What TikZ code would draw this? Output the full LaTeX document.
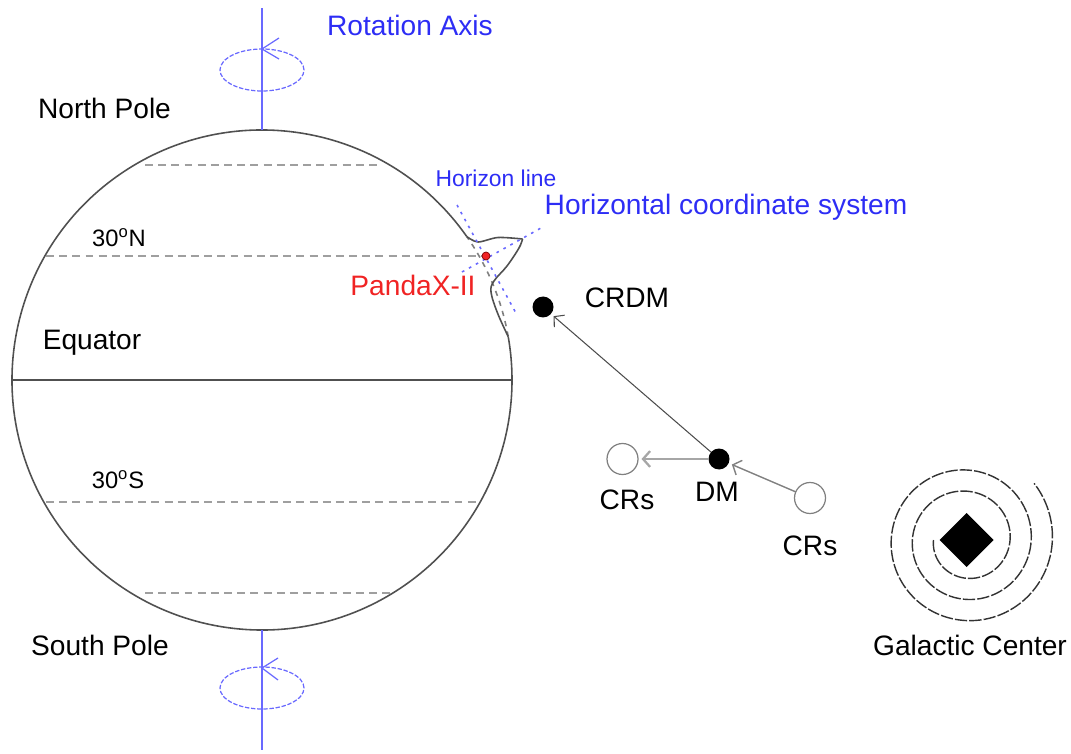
\documentclass[tikz,border=0pt]{standalone}
\usepackage{fontspec}
\setmainfont{Liberation Sans}
\usetikzlibrary{arrows.meta}

\definecolor{axisblue}{RGB}{105,105,255}
\definecolor{labelblue}{RGB}{45,45,245}
\definecolor{pandared}{RGB}{240,35,35}
\definecolor{earthgray}{RGB}{80,80,80}

\begin{document}
\begin{tikzpicture}
\tikzset{ >={Straight Barb[length=4pt,width=9pt]}, inner sep=0pt, outer sep=0pt,
  lbl/.style={font=\fontsize{16}{19}\selectfont},
  smalllbl/.style={font=\fontsize{13.5}{16}\selectfont},
  earth/.style={earthgray, line width=0.9pt},
  lat/.style={gray!75, line width=0.8pt, dash pattern=on 4.5pt off 3pt},
  axis/.style={axisblue, line width=1.3pt},
  spin/.style={axisblue, line width=0.7pt, dash pattern=on 2.5pt off 1pt},
  horizon/.style={axisblue, line width=0.9pt, dash pattern=on 1.5pt off 3pt},
  dmdot/.style={circle, fill=black, minimum size=0.42cm},
  crcirc/.style={circle, draw=gray, line width=0.7pt, minimum size=0.62cm},
  spiral/.style={black!80, line width=0.8pt, dash pattern=on 7pt off 1.2pt},
}

\useasboundingbox (0,0) rectangle (21.42,15.06);

%\draw [lightgray, dashed](0,0) grid (21,15);

% the earth, with the bump at the detector site
\coordinate (E) at (5.24,7.46);
\draw [earth] ([shift={(35:5)}]E) arc (35:370:5);
\draw [earth, dashed, gray] ([shift={(10:5)}]E) arc (10:35:5);
\draw [earth] plot [smooth, tension=0.6] coordinates
  {(10.164,8.328) (9.95,8.80) (9.82,9.22) (9.88,9.44) (10.14,9.74) (10.38,10.10) (10.45,10.28)};
\draw [earth] plot [smooth, tension=0.5] coordinates
  {(10.45,10.28) (9.96,10.31) (9.56,10.22) (9.336,10.328)};

% latitudes
\coordinate (P) at (9.72,9.94);
\draw [lat] (2.90,11.76) -- (7.60,11.76);
\draw [lat] (0.92,9.94)  -- (P);
\draw [earth] (0.24,7.46) -- (10.24,7.46);
\draw [lat] (0.92,5.02)  -- (9.60,5.02);
\draw [lat] (2.90,3.20)  -- (7.80,3.20);

% rotation axis
\coordinate (NP) at (5.24,12.46);
\coordinate (SP) at (5.24,2.46);
\coordinate (Atop) at (5.24,14.90);
\coordinate (Abot) at (5.24,0.06);
\draw [axis] (NP) -- (Atop);
\draw [axis] (SP) -- (Abot);

\draw [spin] (5.24,13.66) ellipse (0.84 and 0.42);
\draw [spin] (5.24,1.30)  ellipse (0.84 and 0.42);

\coordinate (Ntip) at (5.24,14.08);
\coordinate (Stip) at (5.24,1.70);
\draw [axisblue, line width=0.7pt] (Ntip) ++(0.34,0.22) -- (Ntip) -- ++(0.34,-0.20);
\draw [axisblue, line width=0.7pt] (Stip) ++(0.32,0.20) -- (Stip) -- ++(0.32,-0.24);

% horizon and local frame
\coordinate (H1) at (9.14,10.96);
\coordinate (H2) at (10.34,8.76);
\coordinate (C1) at (9.24,9.62);
\coordinate (C2) at (10.82,10.50);
\draw [horizon] (H1) -- (H2);
\draw [horizon] (C1) -- (C2);
\node [circle, fill=pandared, draw=red!50!black, line width=0.4pt, minimum size=0.16cm] (panda) at (P) {};

% dark matter boosted by cosmic rays
\node [dmdot]  (crdm) at (10.86,8.92) {};
\node [dmdot]  (dm)   at (14.38,5.88) {};
\node [crcirc] (crl)  at (12.45,5.88) {};
\node [crcirc] (crr)  at (16.20,5.10) {};

\draw [->, black!70, line width=0.6pt, shorten >=2pt] (dm) -- (crdm);
\draw [->, gray!70, line width=1.3pt, shorten >=2pt] (dm) -- (crl);
\draw [->, gray, line width=0.8pt, shorten >=2pt] (crr) -- (dm);

% galactic center
\coordinate (GC) at (19.33,4.26);
\fill (GC) +(0,0.54) -- +(0.54,0) -- +(0,-0.54) -- +(-0.54,0) -- cycle;
\draw [spiral, shift={(19.33,4.26)}] plot [domain=180:1120, samples=250, smooth]
  ({(0.66+(\x-180)*0.00118)*cos(\x)}, {(0.66+(\x-180)*0.00118)*sin(\x)});

% labels
\node [lbl, text=labelblue] (rot)  at (8.20,14.56) {Rotation Axis};
\node [lbl] (north) at (2.09,12.90) {North Pole};
\node [lbl] (south) at (2.00,2.16)  {South Pole};
\node [lbl] (equ)   at (1.84,8.20)  {Equator};
\node [smalllbl] (n30) at (2.38,10.30) {30\textsuperscript{o}N};
\node [smalllbl] (s30) at (2.36,5.46)  {30\textsuperscript{o}S};
\node [font=\fontsize{13}{15}\selectfont, text=labelblue] (hline) at (9.92,11.50) {Horizon line};
\node [lbl, text=labelblue] (hsys) at (14.52,10.92) {Horizontal coordinate system};
\node [lbl, text=pandared] (plbl) at (8.26,9.36) {PandaX-II};
\node [lbl] (crdmlbl) at (12.54,9.10) {CRDM};
\node [lbl] (dmlbl)   at (14.34,5.22) {DM};
\node [lbl] (crllbl)  at (12.54,5.06) {CRs};
\node [lbl] (crrlbl)  at (16.20,4.14) {CRs};
\node [lbl] (gclbl)   at (19.40,2.16) {Galactic Center};
\end{tikzpicture}
\end{document}
